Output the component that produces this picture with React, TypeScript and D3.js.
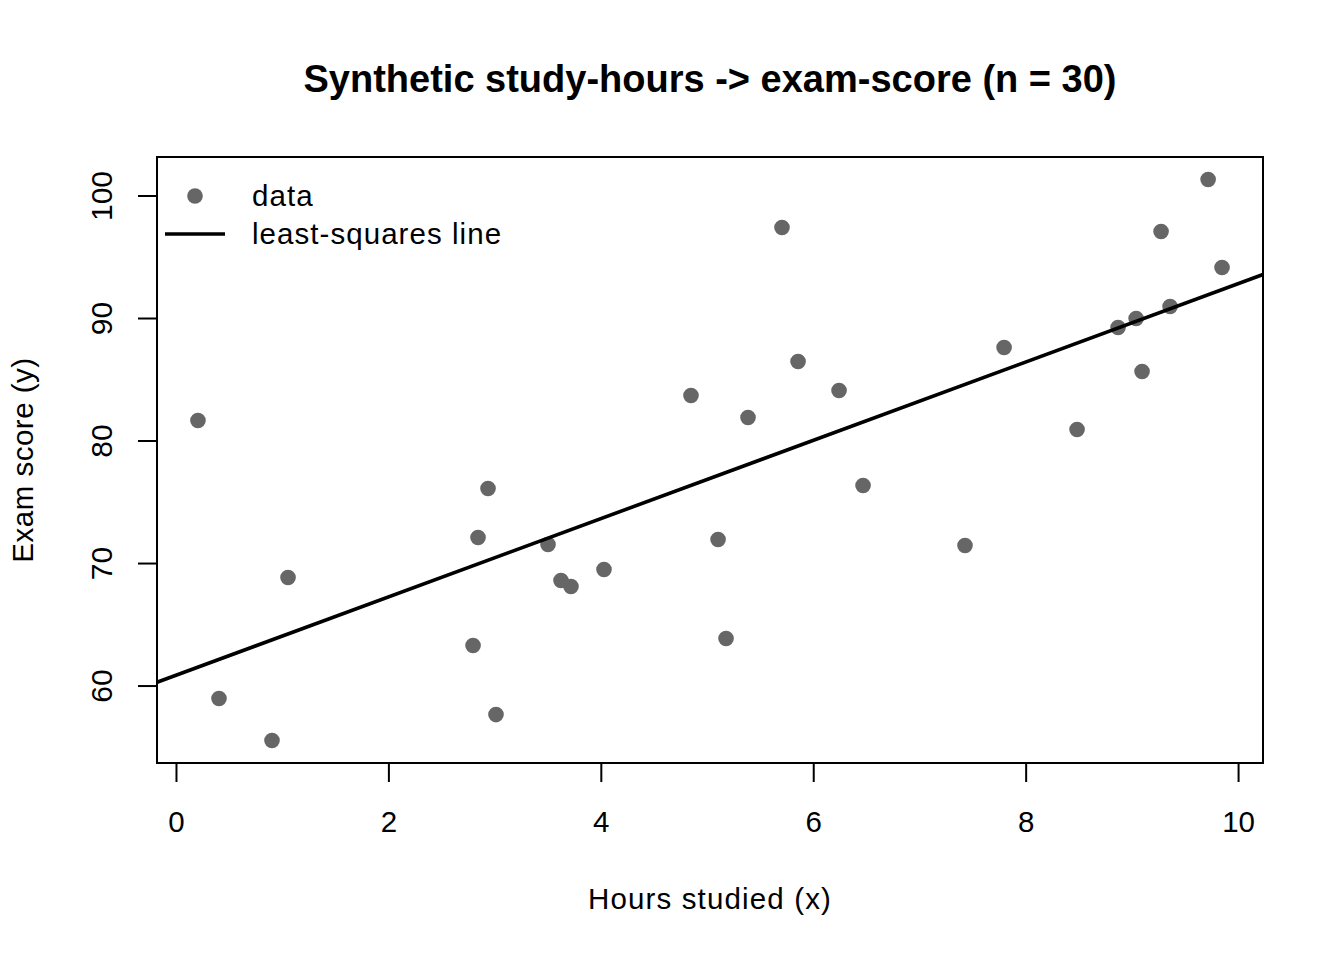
import React, { useEffect, useRef } from 'react';
import * as d3 from 'd3';

// hours studied and exam scores, 30 students
const hours = [
  0.207, 0.405, 0.904, 1.055, 2.797, 2.844, 2.938, 3.013, 3.503, 3.625,
  3.719, 4.030, 4.849, 5.104, 5.179, 5.386, 5.706, 5.857, 6.243, 6.469,
  7.429, 7.797, 8.484, 8.870, 9.040, 9.096, 9.275, 9.360, 9.718, 9.849,
];
const scores = [
  81.63, 58.94, 55.51, 68.82, 63.27, 72.08, 76.08, 57.63, 71.51, 68.57,
  68.08, 69.47, 83.67, 71.92, 63.84, 81.88, 97.39, 86.45, 84.08, 76.33,
  71.43, 87.59, 80.90, 89.22, 89.96, 85.63, 97.06, 90.94, 101.31, 94.12,
];
const xTicks = [0, 2, 4, 6, 8, 10];
const yTicks = [60, 70, 80, 90, 100];
const legendLabels = ['data', 'least-squares line'];

const W = 1344;
const H = 960;
const margin = { top: 157, right: 81, bottom: 197, left: 157 };
const FONT = '"Liberation Sans", Arial, sans-serif';
const FS = 29.5;

// axis range: data extent padded by 4% on each side
const padded = (v: number[]) => {
  const [lo, hi] = d3.extent(v) as [number, number];
  const p = (hi - lo) * 0.04;
  return [lo - p, hi + p];
};

const App = () => {
  const ref = useRef<SVGSVGElement>(null);

  useEffect(() => {
    const svg = d3.select(ref.current);
    svg.selectAll('*').remove();

    const x = d3.scaleLinear().domain(padded(hours)).range([margin.left, W - margin.right]);
    const y = d3.scaleLinear().domain(padded(scores)).range([H - margin.bottom, margin.top]);

    // least squares fit
    const mx = d3.mean(hours)!;
    const my = d3.mean(scores)!;
    const sxy = d3.sum(hours, (h, i) => (h - mx) * (scores[i] - my));
    const sxx = d3.sum(hours, (h) => (h - mx) ** 2);
    const slope = sxy / sxx;
    const intercept = my - slope * mx;

    svg.append('rect').attr('width', W).attr('height', H).attr('fill', '#fff');

    const data = hours.map((h, i) => ({ h, s: scores[i] }));
    svg.append('g')
      .selectAll('circle')
      .data(data)
      .enter().append('circle')
      .attr('cx', (d) => x(d.h))
      .attr('cy', (d) => y(d.s))
      .attr('r', 7.8)
      .attr('fill', '#666666');

    // regression line across the whole plot region
    const [x0, x1] = x.domain();
    svg.append('line')
      .attr('x1', x(x0)).attr('y1', y(intercept + slope * x0))
      .attr('x2', x(x1)).attr('y2', y(intercept + slope * x1))
      .attr('stroke', '#000').attr('stroke-width', 3.6);

    // box
    svg.append('rect')
      .attr('x', margin.left).attr('y', margin.top)
      .attr('width', W - margin.left - margin.right)
      .attr('height', H - margin.top - margin.bottom)
      .attr('fill', 'none').attr('stroke', '#000').attr('stroke-width', 2);

    const xAxis = svg.append('g')
      .attr('transform', `translate(0,${H - margin.bottom})`)
      .call(d3.axisBottom(x).tickValues(xTicks).tickSize(19).tickFormat(d3.format('d')));
    xAxis.select('.domain')
      .attr('d', `M${x(xTicks[0])},0H${x(xTicks[xTicks.length - 1])}`)
      .attr('stroke-width', 2);
    xAxis.selectAll('.tick line').attr('stroke-width', 2);
    xAxis.selectAll('text')
      .attr('font-family', FONT).attr('font-size', FS).attr('fill', '#000')
      .attr('dy', null).attr('y', 68.5);

    const yAxis = svg.append('g')
      .attr('transform', `translate(${margin.left},0)`)
      .call(d3.axisLeft(y).tickValues(yTicks).tickSize(19).tickFormat(d3.format('d')));
    yAxis.select('.domain')
      .attr('d', `M0,${y(yTicks[0])}V${y(yTicks[yTicks.length - 1])}`)
      .attr('stroke-width', 2);
    yAxis.selectAll('.tick line').attr('stroke-width', 2);
    yAxis.selectAll('text')
      .attr('font-family', FONT).attr('font-size', 30).attr('fill', '#000')
      .attr('x', null).attr('dy', null)
      .attr('text-anchor', 'middle')
      .attr('transform', 'translate(-45,0) rotate(-90)');

    svg.append('text')
      .attr('x', (margin.left + W - margin.right) / 2).attr('y', 92)
      .attr('text-anchor', 'middle')
      .attr('font-family', FONT).attr('font-size', 38).attr('font-weight', 'bold')
      .text('Synthetic study-hours -> exam-score (n = 30)');

    svg.append('text')
      .attr('x', (margin.left + W - margin.right) / 2).attr('y', 909)
      .attr('text-anchor', 'middle')
      .attr('font-family', FONT).attr('font-size', FS)
      .attr('letter-spacing', 1.15)
      .text('Hours studied (x)');

    svg.append('text')
      .attr('transform', `translate(33,${(margin.top + H - margin.bottom) / 2}) rotate(-90)`)
      .attr('text-anchor', 'middle')
      .attr('font-family', FONT).attr('font-size', FS)
      .attr('letter-spacing', 0.5)
      .text('Exam score (y)');

    // legend
    const lg = svg.append('g');
    lg.append('circle').attr('cx', 195).attr('cy', 196).attr('r', 7.8).attr('fill', '#666666');
    lg.append('line').attr('x1', 165).attr('x2', 225).attr('y1', 234).attr('y2', 234)
      .attr('stroke', '#000').attr('stroke-width', 3.6);
    lg.selectAll('text')
      .data(legendLabels)
      .enter().append('text')
      .attr('x', 252)
      .attr('y', (d, i) => 206 + i * 38.2)
      .attr('font-family', FONT).attr('font-size', FS)
      .attr('letter-spacing', 1.05)
      .text((d) => d);
  }, []);

  return (
    <svg ref={ref} width={W} height={H}
      style={{ position: 'absolute', left: 0, top: 0, display: 'block' }} />
  );
};

export default App;
